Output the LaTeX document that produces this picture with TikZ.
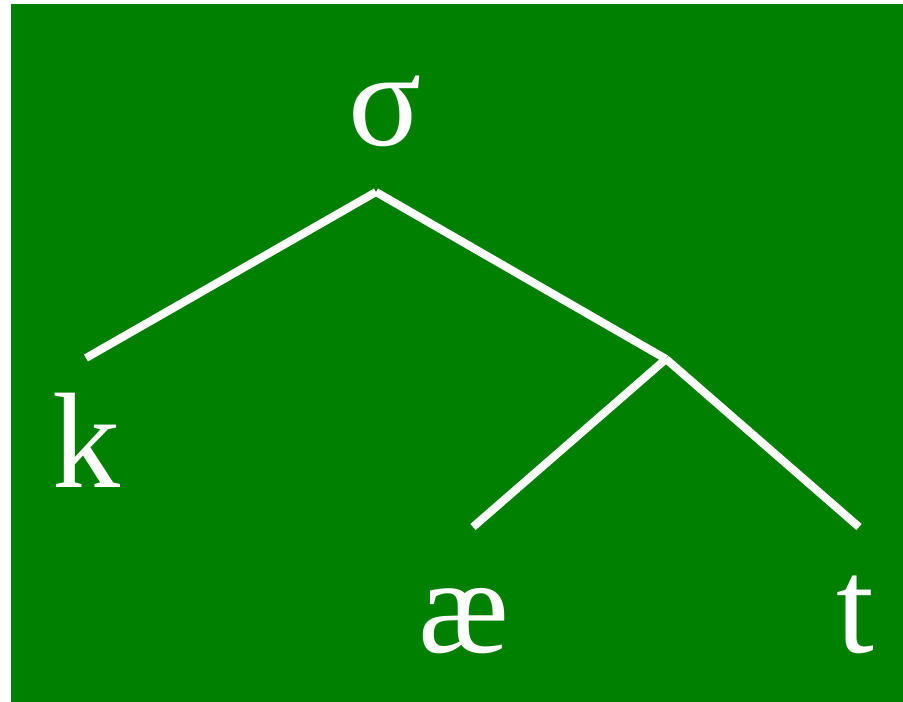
\documentclass[tikz,border=0pt]{standalone}
\usepackage{fontspec}
\setmainfont{Liberation Serif}
\usepackage{tikz}
\usetikzlibrary{positioning}
\definecolor{TreeGreen}{RGB}{0,128,0}

\begin{document}
\begin{tikzpicture}[
  x=1pt, y=-1pt,
  every node/.style={font=\fontsize{136}{136}\selectfont, text=white, inner sep=0pt, anchor=base},
  branch/.style={draw=white, line width=8pt}
]
\useasboundingbox (0,0) rectangle (903,702);
\fill[TreeGreen] (11,4) rectangle (903,702);

% Labels
\node (sigma) at (385,145) {σ};
\node (k) at (86,487) {k};
\node (ae) at (464,652) {æ};
\node (t) at (855,652) {t};

% Branch points
\coordinate (top) at (376,192);
\coordinate (rime) at (666,359);
\coordinate (kend) at (86,358);
\coordinate (aeend) at (473,527);
\coordinate (tend) at (859,527);

% Branches
\draw[branch] (top) -- (kend);
\draw[branch] (top) -- (rime);
\draw[branch] (rime) -- (aeend);
\draw[branch] (rime) -- (tend);
\end{tikzpicture}
\end{document}
